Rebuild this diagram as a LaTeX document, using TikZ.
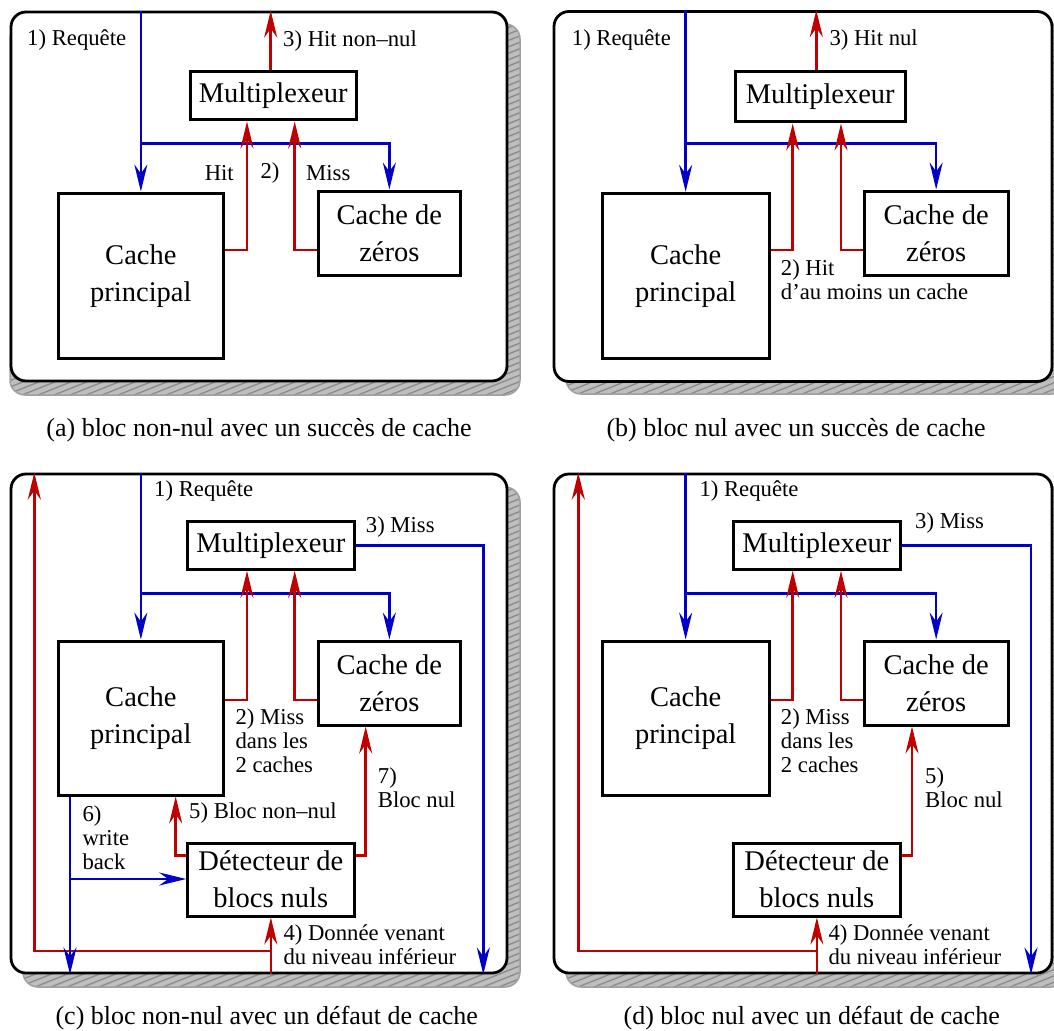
\documentclass[tikz,border=0pt]{standalone}
\usepackage{fontspec}
\setmainfont{Liberation Serif}
\usetikzlibrary{arrows.meta}
\definecolor{fred}{HTML}{C00000}
\definecolor{fblue}{HTML}{0000C8}
\definecolor{shfill}{HTML}{BEBEBE}
\definecolor{shline}{HTML}{8A8A8A}
\definecolor{shedge}{HTML}{A0A0A0}
\tikzset{
  box/.style={draw, line width=3pt, inner sep=0pt, align=center, font=\fontsize{28.5}{37}\selectfont},
  frame/.style={draw, line width=2.8pt, rounded corners=15pt, fill=white, inner sep=0pt},
  lbl/.style={inner sep=0pt, align=left, font=\fontsize{22.7}{24}\selectfont},
  captxt/.style={inner sep=0pt, font=\fontsize{26}{30}\selectfont},
  rarr/.style={draw=fred, line width=2.5pt, -{Stealth[length=27pt,width=13pt,inset=9pt]}},
  barr/.style={draw=fblue, line width=2.5pt, -{Stealth[length=27pt,width=13pt,inset=9pt]}},
}
\newcommand\myshadow[4]{%
  \begin{scope}
    \clip[rounded corners=15pt] (#1,#2) rectangle (#3,#4);
    \fill[shfill] (#1,#2) rectangle (#3,#4);
    \foreach \s in {-1300,-1284,...,560} \draw[shline, line width=1.3pt] (\s+#1,#4) -- ++(1300,-520);
  \end{scope}
  \draw[shedge, line width=1.5pt, rounded corners=15pt] (#1,#2) rectangle (#3,#4);
}
\begin{document}
\begin{tikzpicture}[x=1pt,y=-1pt]
\useasboundingbox (0,0) rectangle (1054,1030);
\clip (0,0) rectangle (1054,1030);
\fill[white] (0,0) rectangle (1054,1030);

% ---------- (a)
\myshadow{10}{24}{520}{395}
\node[frame, minimum width=496pt, minimum height=369pt] (a-frame) at (259,196.5) {};
\node[box, minimum width=166.3pt, minimum height=48.3pt] (a-mux) at (273.15,95.85) {Multiplexeur};
\node[box, minimum width=165.7pt, minimum height=165.3pt] (a-cp) at (140.85,275.65) {Cache\\principal};
\node[box, minimum width=142.7pt, minimum height=84pt] (a-cz) at (389.35,233) {Cache de\\zéros};
\draw[barr] (a-frame.north -| a-cp.north) -- (a-cp.north);
\draw[barr] (a-cp.north |- 0,143.3) -| (a-cz.north);
\draw[rarr] (a-mux.north -| 270.7,0) -- (a-frame.north -| 270.7,0);
\draw[rarr] (a-cp.east |- 0,250) -| (a-mux.south -| 247,0);
\draw[rarr] (a-cz.west |- 0,250) -| (a-mux.south -| 294.7,0);
\node[lbl, anchor=west] (a-l1) at (27,40) {1) Requête};
\node[lbl, anchor=west] (a-l3) at (283,40.7) {3) Hit non–nul};
\node[lbl, anchor=east] (a-lhit) at (234,172.7) {Hit};
\node[lbl] (a-l2) at (270,172.7) {2)};
\node[lbl, anchor=west] (a-lmiss) at (306,172.7) {Miss};
\node[captxt] (a-cap) at (259,430) {(a) bloc non-nul avec un succès de cache};

% ---------- (b)
\myshadow{566}{24}{1066}{394}
\node[frame, minimum width=498pt, minimum height=370pt] (b-frame) at (803,196.5) {};
\node[box, minimum width=170pt, minimum height=50.3pt] (b-mux) at (820.3,96.85) {Multiplexeur};
\node[box, minimum width=167.3pt, minimum height=165pt] (b-cp) at (685.65,275.8) {Cache\\principal};
\node[box, minimum width=143.7pt, minimum height=84pt] (b-cz) at (936.15,233) {Cache de\\zéros};
\draw[barr] (b-frame.north -| b-cp.north) -- (b-cp.north);
\draw[barr] (b-cp.north |- 0,143.3) -| (b-cz.north);
\draw[rarr] (b-mux.north -| 816.3,0) -- (b-frame.north -| 816.3,0);
\draw[rarr] (b-cp.east |- 0,250) -| (b-mux.south -| 792.7,0);
\draw[rarr] (b-cz.west |- 0,250) -| (b-mux.south -| 841,0);
\node[lbl, anchor=west] (b-l1) at (571.7,40) {1) Requête};
\node[lbl, anchor=west] (b-l3) at (829.3,40) {3) Hit nul};
\node[lbl, anchor=west] (b-l2) at (780.7,279.7) {2) Hit\\d’au moins un cache};
\node[captxt] (b-cap) at (796,430) {(b) bloc nul avec un succès de cache};

% ---------- (c)
\myshadow{23}{487}{520}{987}
\node[frame, minimum width=496pt, minimum height=499pt] (c-frame) at (259,723.5) {};
\node[box, minimum width=166.3pt, minimum height=47.6pt] (c-mux) at (270.85,545.5) {Multiplexeur};
\node[box, minimum width=165.7pt, minimum height=154pt] (c-cp) at (140.85,718) {Cache\\principal};
\node[box, minimum width=142.7pt, minimum height=84pt] (c-cz) at (389.35,683) {Cache de\\zéros};
\node[box, minimum width=166.3pt, minimum height=72.7pt] (c-det) at (270.85,879.65) {Détecteur de\\blocs nuls};
\draw[barr] (c-frame.north -| c-cp.north) -- (c-cp.north);
\draw[barr] (c-cp.north |- 0,593.3) -| (c-cz.north);
\draw[barr] (c-mux.east) -| (c-frame.south -| 483.3,0);
\draw[rarr] (c-cp.east |- 0,700) -| (c-mux.south -| 247,0);
\draw[rarr] (c-cz.west |- 0,700) -| (c-mux.south -| 294.7,0);
\draw[rarr] (c-det.west |- 0,855.3) -| (c-cp.south -| 175.7,0);
\draw[rarr] (c-det.east |- 0,855.3) -| (c-cz.south -| 365.7,0);
\draw[rarr] (c-frame.south -| c-det.south) -- (c-det.south);
\draw[rarr] (c-det.south |- 0,951) -| (c-frame.north -| 34.3,0);
\coordinate (c-wb) at (70,879);
\draw[barr] (c-cp.south -| c-wb) -- (c-frame.south -| c-wb);
\draw[barr] (c-wb) -- (c-det.west |- c-wb);
\node[lbl, anchor=west] (c-l1) at (154,490.7) {1) Requête};
\node[lbl, anchor=west] (c-l3) at (365.7,526.7) {3) Miss};
\node[lbl, anchor=west] (c-l2) at (235.3,740.7) {2) Miss\\dans les\\2 caches};
\node[lbl, anchor=west] (c-l7) at (377.7,787.8) {7)\\Bloc nul};
\node[lbl, anchor=west] (c-l5) at (189,813.3) {5) Bloc non–nul};
\node[lbl, anchor=west] (c-l6) at (82.3,837.3) {6)\\write\\back};
\node[lbl, anchor=west] (c-l4) at (283.3,944.3) {4) Donnée venant\\du niveau inférieur};
\node[captxt] (c-cap) at (266.7,1018) {(c) bloc non-nul avec un défaut de cache};

% ---------- (d)
\myshadow{566}{487}{1066}{987}
\node[frame, minimum width=498pt, minimum height=499pt] (d-frame) at (803,723.5) {};
\node[box, minimum width=167.7pt, minimum height=47.6pt] (d-mux) at (816.85,545.5) {Multiplexeur};
\node[box, minimum width=167.3pt, minimum height=154pt] (d-cp) at (685.65,718) {Cache\\principal};
\node[box, minimum width=143.7pt, minimum height=84pt] (d-cz) at (936.15,683) {Cache de\\zéros};
\node[box, minimum width=167.7pt, minimum height=72.7pt] (d-det) at (816.85,879.65) {Détecteur de\\blocs nuls};
\draw[barr] (d-frame.north -| d-cp.north) -- (d-cp.north);
\draw[barr] (d-cp.north |- 0,593.3) -| (d-cz.north);
\draw[barr] (d-mux.east) -| (d-frame.south -| 1031,0);
\draw[rarr] (d-cp.east |- 0,700) -| (d-mux.south -| 792.7,0);
\draw[rarr] (d-cz.west |- 0,700) -| (d-mux.south -| 841,0);
\draw[rarr] (d-det.east |- 0,855.3) -| (d-cz.south -| 912,0);
\draw[rarr] (d-frame.south -| d-det.south) -- (d-det.south);
\draw[rarr] (d-det.south |- 0,951) -| (d-frame.north -| 578.3,0);
\node[lbl, anchor=west] (d-l1) at (699.3,490.7) {1) Requête};
\node[lbl, anchor=west] (d-l3) at (915,523.3) {3) Miss};
\node[lbl, anchor=west] (d-l2) at (780.7,740.7) {2) Miss\\dans les\\2 caches};
\node[lbl, anchor=west] (d-l5) at (925,787.8) {5)\\Bloc nul};
\node[lbl, anchor=west] (d-l4) at (828.3,944.3) {4) Donnée venant\\du niveau inférieur};
\node[captxt] (d-cap) at (811.7,1018) {(d) bloc nul avec un défaut de cache};
\end{tikzpicture}
\end{document}
